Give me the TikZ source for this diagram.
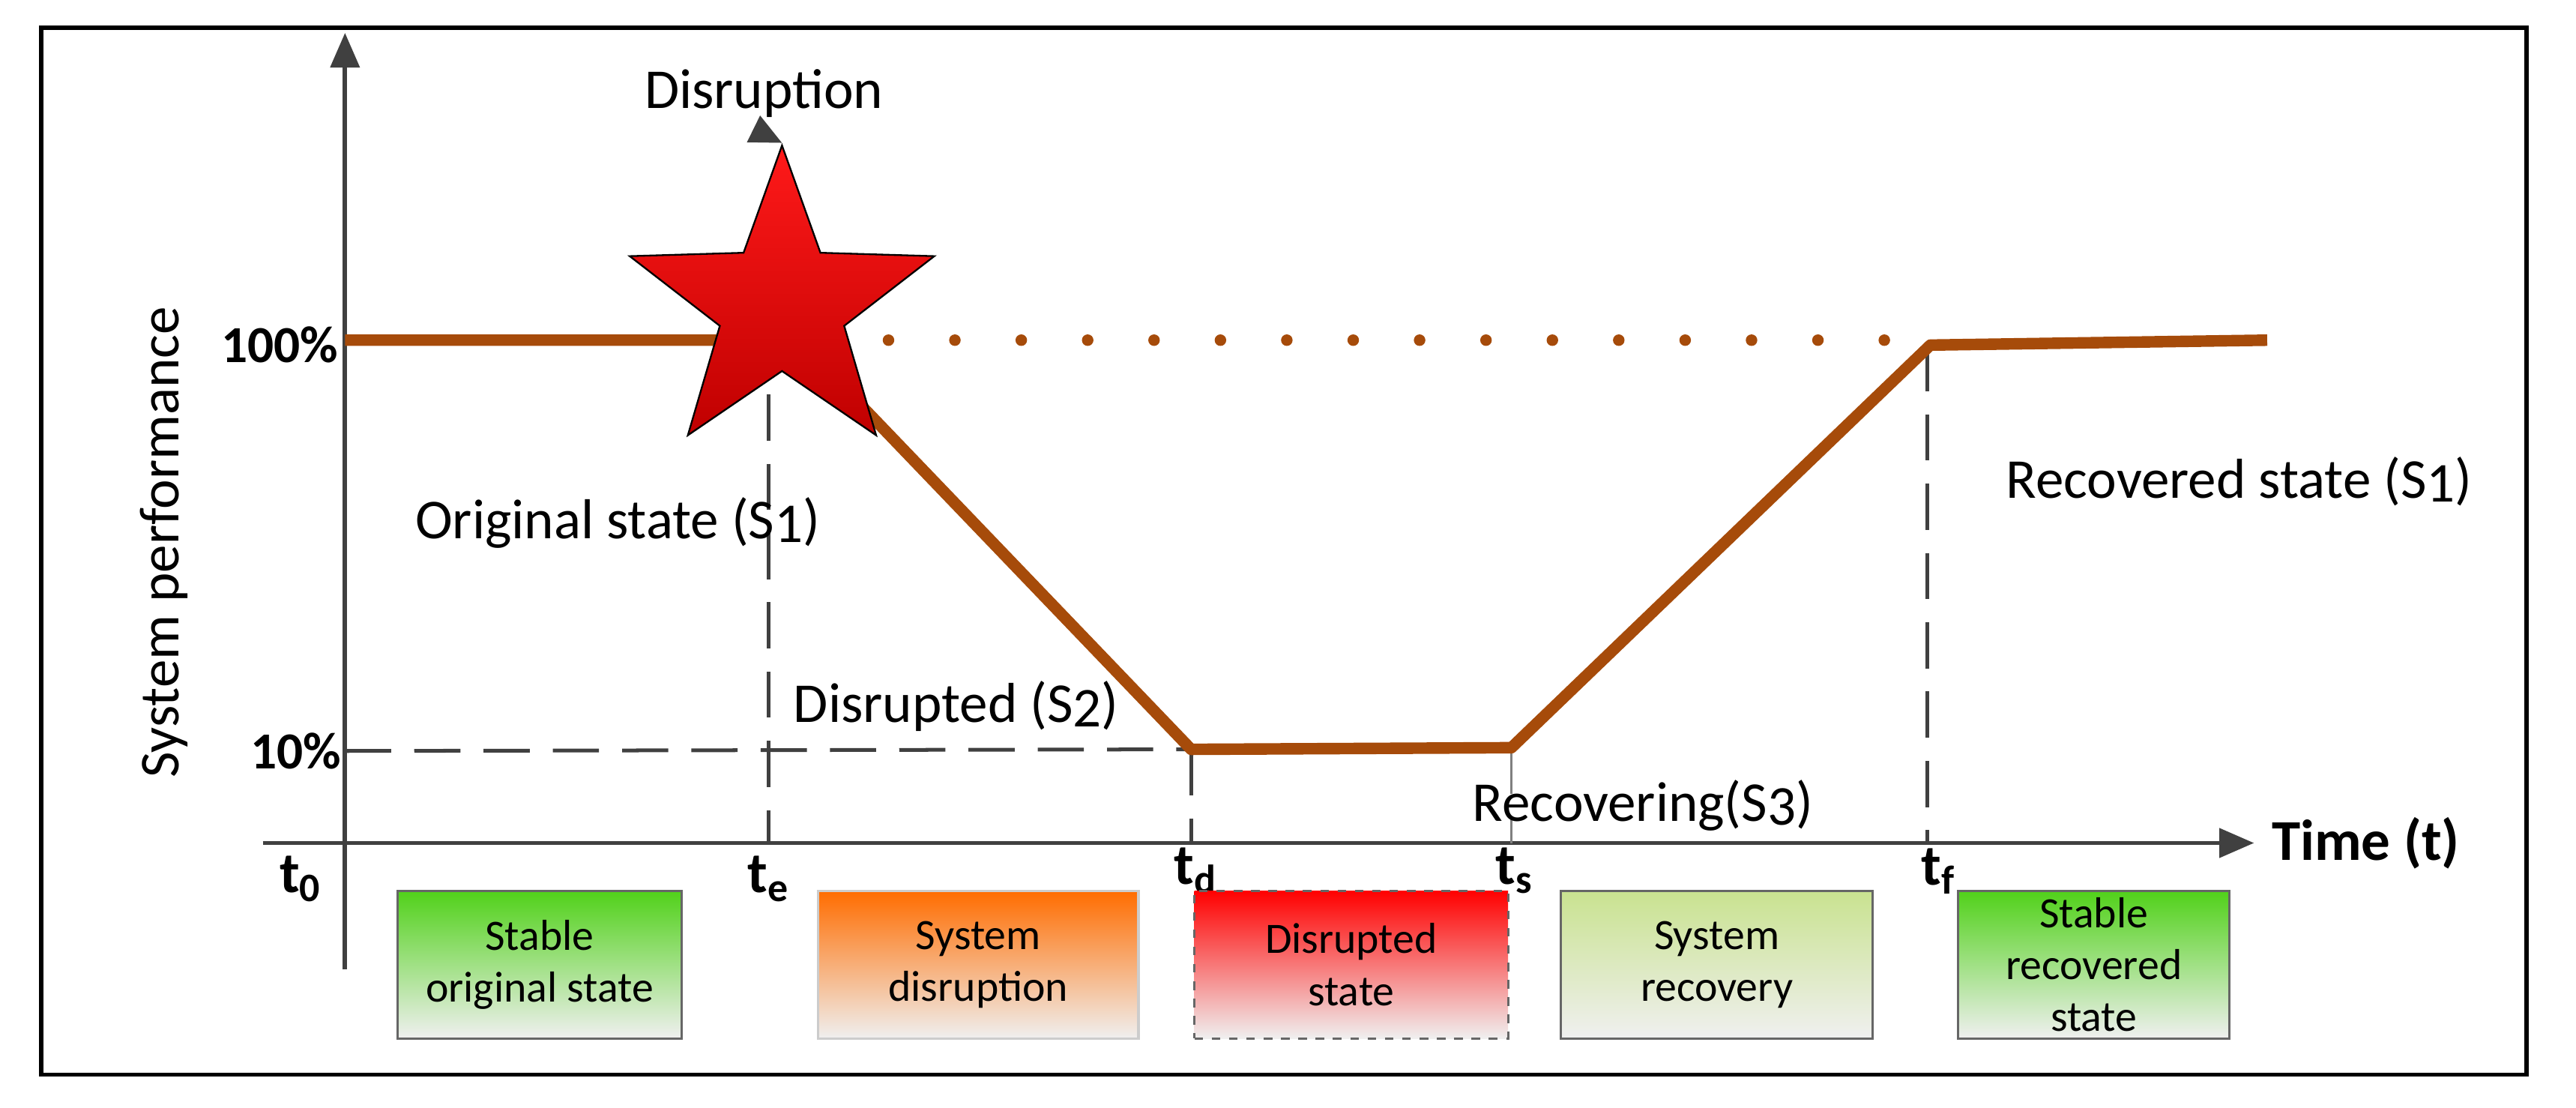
\documentclass[tikz,border=0pt]{standalone}
\usepackage{fontspec}
\setmainfont{Carlito}
\usetikzlibrary{shapes.geometric,arrows.meta}
\definecolor{perf}{HTML}{A64B0A}
\definecolor{axis}{HTML}{404040}
\tikzset{
  lbl/.style={font=\fontsize{19.5}{23}\selectfont},
  tick/.style={font=\bfseries\fontsize{18}{21}\selectfont},
  tl/.style={font=\bfseries\fontsize{20}{24}\selectfont},
  guide/.style={draw=axis,line width=1.3pt,dash pattern=on 16pt off 8pt},
  box/.style={draw=gray!80!black,line width=0.8pt,minimum width=#1,minimum height=1.8cm,align=center,font=\fontsize{15}{18}\selectfont,inner sep=2pt}
}
\newcommand{\Sx}[1]{S\raisebox{-0.15ex}{#1}}
\begin{document}
\begin{tikzpicture}[x=0.02cm,y=-0.02cm]
\useasboundingbox (0,0) rectangle (1568,674);
\draw[line width=1.5pt] (25,17) rectangle (1538,654);
% axes
\coordinate (yb) at (210,590); \coordinate (yt) at (210,20);
\coordinate (xl) at (160,513); \coordinate (xr) at (1372,513);
\draw[axis,line width=1.5pt,-{Triangle[length=12pt,width=10pt]}] (yb) -- (yt);
\draw[axis,line width=1.5pt,-{Triangle[length=12pt,width=10pt]}] (xl) -- (xr);
% points
\coordinate (p0) at (210,207); \coordinate (pe) at (486,207);
\coordinate (pd) at (725,456); \coordinate (ps) at (920,455);
\coordinate (pf) at (1175,210); \coordinate (pend) at (1380,207);
\coordinate (l10) at (210,457);
\coordinate (te) at (468,513); \coordinate (tet) at (468,240);
\coordinate (td) at (725,513); \coordinate (ts) at (920,513);
\coordinate (tf) at (1173,513); \coordinate (tft) at (1173,210);
% guides
\draw[guide] (l10) -- (pd);
\draw[guide] (tet) -- (te);
\draw[guide] (pd) -- (td);
\draw[guide,draw=gray,line width=0.8pt] (ps) -- (ts);
\draw[guide] (tft) -- (tf);
% dotted
\draw[perf,line width=4pt,line cap=round,dash pattern=on 0pt off 23pt] (460,207) -- (1150,207);
% curve
\draw[perf,line width=4pt,line join=round] (p0) -- (pe) -- (pd) -- (ps) -- (pf) -- (pend);
% star
\node[star,star points=5,star point ratio=2.45,draw=black,line width=0.6pt,
  top color=red!90!white,bottom color=red!75!black,inner sep=0pt,minimum size=3.9cm] (star) at (476,186) {};
\node[lbl] (dis) at (465,57) {Disruption};
\coordinate (da) at (470,84);
\draw[axis,line width=1.2pt,-{Triangle[length=11pt,width=10pt]}] (da) -- (star.north);
% labels
\node[tick,anchor=east] (c100) at (212,210) {100\%};
\node[tick,anchor=east] (c10) at (214,457) {10\%};
\node[lbl] (yl) [rotate=90] at (100,330) {System performance};
\node[tl] (tlab) at (1440,513) {Time (t)};
\node[tl] (t0) at (183,535) {t\textsubscript{0}};
\node[tl] (tel) at (468,535) {t\textsubscript{e}};
\node[tl] (tdl) at (728,530) {t\textsubscript{d}};
\node[tl] (tsl) at (922,530) {t\textsubscript{s}};
\node[tl] (tfl) at (1180,530) {t\textsubscript{f}};
\node[lbl] (os) at (376,318) {Original state (\Sx{1})};
\node[lbl] (ds) at (582,430) {Disrupted (\Sx{2})};
\node[lbl] (rs) at (1000,490) {Recovering(\Sx{3})};
\node[lbl] (rcs) at (1363,293) {Recovered state (\Sx{1})};
% boxes
\node[box=3.46cm,top color=green!60!lime!80!black!90,bottom color=gray!12] (b1) at (328.5,587) {Stable\\original state};
\node[box=3.9cm,draw=gray!40,top color=orange!85!red,bottom color=gray!12] (b2) at (595.5,587) {System\\disruption};
\node[box=3.82cm,dashed,top color=red,bottom color=gray!12] (b3) at (822.5,587) {Disrupted\\state};
\node[box=3.8cm,top color=olive!25!white!90!green,bottom color=gray!12] (b4) at (1045,587) {System\\recovery};
\node[box=3.3cm,top color=green!60!lime!80!black!90,bottom color=gray!12] (b5) at (1274.5,587) {Stable\\recovered\\state};
\end{tikzpicture}
\end{document}
